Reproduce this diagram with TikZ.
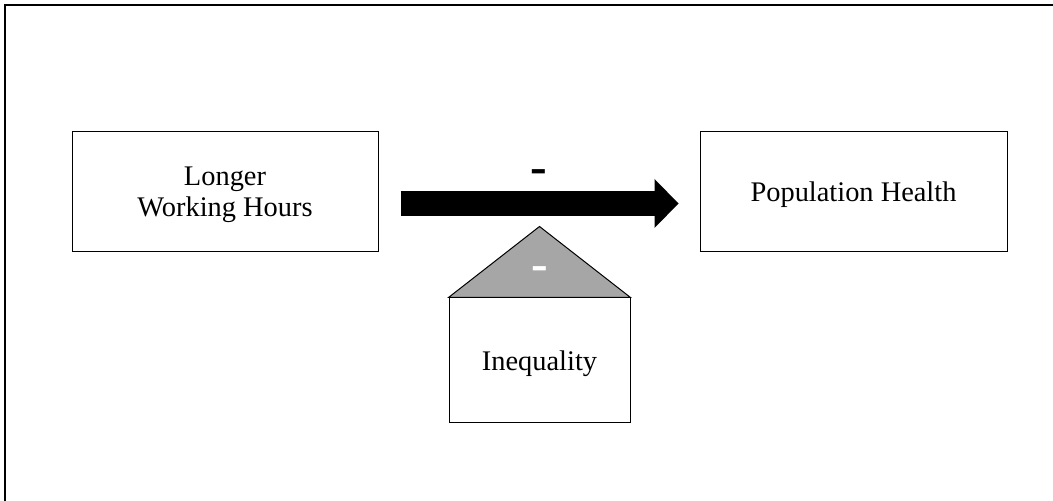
\documentclass[tikz,border=0pt]{standalone}
\usepackage{fontspec}
\setmainfont{Liberation Serif}
\usepackage{xcolor}
\definecolor{wedgegray}{HTML}{A6A6A6}
\usetikzlibrary{arrows.meta,positioning}

\begin{document}
\begin{tikzpicture}[x=0.5pt, y=-0.5pt, font=\fontsize{14.2}{15.5}\selectfont,
		factor/.style={draw, line width=0.5pt, inner sep=0pt, align=center, text depth=0pt}]
		\useasboundingbox (0,0) rectangle (1053,501);
		\draw[line width=1pt] (5,5) rectangle (1070,520);

		\node[factor, minimum width=153pt, minimum height=60pt] (hours) at (225,192) {Longer\\Working Hours};
		\node[factor, minimum width=153.5pt, minimum height=60pt] (health) at (853.5,192) {Population Health};
		\node[factor, minimum width=90.5pt, minimum height=62.5pt] (ineq) at (539.5,360.5) {Inequality};

		% main effect arrow
		\draw[line width=12.5pt, -{Triangle[length=12pt, width=24.5pt, line width=0pt]}]
			([xshift=11pt, yshift=-5.75pt]hours.east) -- ([xshift=-10.5pt, yshift=-5.75pt]health.west);
		\node[font=\fontsize{25}{25}\bfseries] (signmain) at (538.5,177) {-};

		% moderator wedge
		\coordinate (apex) at ([yshift=35.5pt]ineq.north);
		\draw[fill=wedgegray, line width=0.5pt] (ineq.north west) -- (apex) -- (ineq.north east) -- cycle;
		\node[white, font=\fontsize{25}{25}\bfseries] (signmod) at (540,274) {-};
	\end{tikzpicture}
\end{document}
